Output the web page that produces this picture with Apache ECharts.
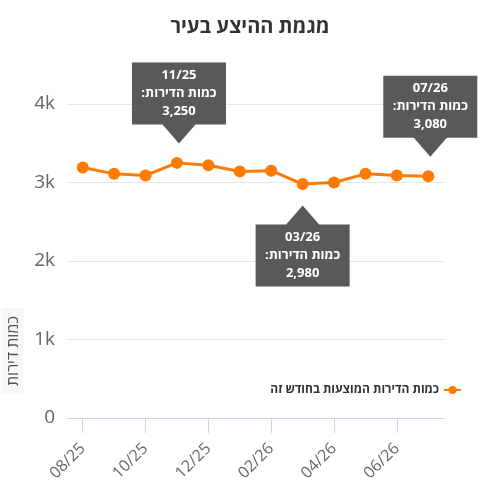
<!DOCTYPE html>
<html>
<head>
<meta charset="utf-8">
<script src="https://cdn.jsdelivr.net/npm/echarts@6/dist/echarts.min.js"></script>
<style>
html,body{margin:0;padding:0;background:#fff;}
#c{width:500px;height:500px;}
</style>
</head>
<body>
<div id="c"></div>
<script>
const categories = ['08/25','09/25','10/25','11/25','12/25','01/26','02/26','03/26','04/26','05/26','06/26','07/26'];
const values = [3190, 3110, 3090, 3250, 3220, 3140, 3150, 2980, 3000, 3110, 3090, 3080];
const yTicks = [0, 1000, 2000, 3000, 4000];
const calloutAbove = ['11/25', '07/26'];
const calloutBelow = ['03/26'];
const seriesName = 'כמות הדירות המוצעות בחודש זה';
const titleText = 'מגמת ההיצע בעיר';
const yName = 'כמות דירות';
const calloutLabel = 'כמות הדירות:';

const FONT = '"Open Sans", "DejaVu Sans", sans-serif';
const RLM = '\u200F';
const pathDown = 'path://M0,0 L94,0 L94,62 L63.5,62 L47,81 L30.5,62 L0,62 Z';
const pathUp = 'path://M47,0 L63.5,19 L94,19 L94,81 L0,81 L0,19 L30.5,19 Z';

function fmtNum(v){ return v.toLocaleString('en-US'); }

const markData = [];
calloutAbove.forEach(c => {
  const i = categories.indexOf(c);
  markData.push({
    coord: [c, values[i]], value: values[i], name: c,
    symbol: pathDown, symbolSize: [94, 81], symbolOffset: [c === '07/26' ? 2 : 2, -60],
    label: { offset: [0, -9.5] }
  });
});
calloutBelow.forEach(c => {
  const i = categories.indexOf(c);
  markData.push({
    coord: [c, values[i]], value: values[i], name: c,
    symbol: pathUp, symbolSize: [94, 81], symbolOffset: [0, 62],
    label: { offset: [0, 9.5] }
  });
});

const chart = echarts.init(document.getElementById('c'));
chart.setOption({
  animation: false,
  textStyle: { fontFamily: FONT },
  title: {
    text: titleText, left: 'center', top: 12,
    textStyle: { fontSize: 20, fontWeight: 'bold', color: '#333', fontFamily: FONT }
  },
  legend: {
    data: [seriesName], right: 33, top: 379, align: 'right',
    itemWidth: 17, itemHeight: 10, itemGap: 4,
    textStyle: { fontSize: 12, fontWeight: 'bold', color: '#333', fontFamily: FONT }
  },
  grid: { left: 67, right: 56, top: 104, bottom: 82, outerBoundsMode: 'none' },
  xAxis: {
    type: 'category', data: categories, boundaryGap: true,
    axisLine: { lineStyle: { color: '#ccd6eb' } },
    axisTick: { show: true, alignWithLabel: true, interval: 1, length: 15, lineStyle: { color: '#ccd6eb' } },
    axisLabel: { interval: 1, rotate: 45, margin: 28, fontSize: 16, color: '#666', fontFamily: FONT }
  },
  yAxis: {
    type: 'value', min: yTicks[0], max: yTicks[yTicks.length - 1], interval: yTicks[1] - yTicks[0],
    name: '{a|' + yName + '}', nameLocation: 'middle', nameGap: 43, nameRotate: 90,
    nameTextStyle: {
      padding: [0, 180, 0, 0],
      rich: { a: { fontSize: 16, color: '#555', fontFamily: FONT, backgroundColor: '#f7f7f7', padding: [4, 8, 2, 8] } }
    },
    axisLine: { show: false }, axisTick: { show: false },
    splitLine: { lineStyle: { color: '#e6e6e6', width: 1 } },
    axisLabel: {
      margin: 12, fontSize: 19, color: '#666', fontFamily: FONT,
      formatter: v => v === 0 ? '0' : (v / 1000) + 'k'
    }
  },
  series: [{
    name: seriesName, type: 'line', data: values,
    symbol: 'circle', symbolSize: 12, showSymbol: true,
    itemStyle: { color: '#ff7a00' },
    lineStyle: { color: '#ff7a00', width: 3 },
    markPoint: {
      z: 10,
      itemStyle: { color: '#595959' },
      label: {
        show: true, position: 'inside', color: '#fff', fontSize: 13, fontWeight: 'bold',
        lineHeight: 18, align: 'center', fontFamily: FONT,
        formatter: p => p.name + '\n' + calloutLabel + RLM + '\n' + fmtNum(p.value)
      },
      data: markData
    }
  }]
});
</script>
</body>
</html>
